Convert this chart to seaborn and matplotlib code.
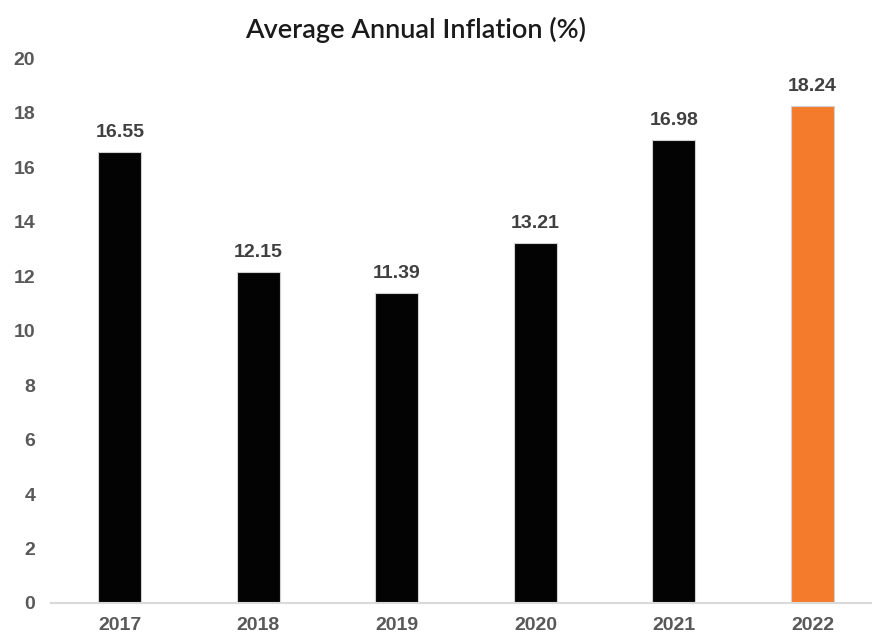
import matplotlib
matplotlib.use("Agg")
import matplotlib.pyplot as plt
import seaborn as sns
import pandas as pd

years = ["2017", "2018", "2019", "2020", "2021", "2022"]
inflation = [16.55, 12.15, 11.39, 13.21, 16.98, 18.24]
bar_colors = ["#030304", "#030304", "#030304", "#030304", "#030304", "#f47b2b"]
yticks = [0, 2, 4, 6, 8, 10, 12, 14, 16, 18, 20]

df = pd.DataFrame({"year": years, "inflation": inflation})

sns.set_style("white")
plt.rcParams["font.family"] = ["Liberation Sans", "DejaVu Sans"]
fig = plt.figure(figsize=(8.72, 6.34), dpi=100)
ax = fig.add_axes([0.058, 0.0489, 0.942, 0.8596])

sns.barplot(data=df, x="year", y="inflation", hue="year", palette=bar_colors,
            saturation=1, legend=False, width=0.31, ax=ax,
            edgecolor="#d0d0d0", linewidth=0.8)

ax.set_ylim(0, 20)
ax.set_xlim(-0.5, 5.43)
ax.set_yticks(yticks)
ax.set_yticklabels([str(t) for t in yticks])
ax.set_xlabel("")
ax.set_ylabel("")
for s in ["top", "right", "left"]:
    ax.spines[s].set_visible(False)
ax.spines["bottom"].set_color("#d9d9d9")
ax.spines["bottom"].set_linewidth(1.5)
ax.tick_params(axis="both", length=0, labelsize=14, labelcolor="#595959")
ax.tick_params(axis="x", pad=10)
ax.tick_params(axis="y", pad=11)
for lbl in ax.get_xticklabels() + ax.get_yticklabels():
    lbl.set_fontweight("bold")

for i, v in enumerate(inflation):
    ax.annotate(f"{v:.2f}", (i, v), xytext=(0, 8), textcoords="offset points",
                ha="center", va="bottom", fontsize=14, fontweight="bold",
                color="#404040")

fig.text(0.476, 0.952, "Average Annual Inflation (%)", ha="center", va="center",
         fontsize=19.5, color="#1a1a1a", family=["Lato", "DejaVu Sans"],
         fontweight="semibold")

fig.savefig("out.png", dpi=100)
